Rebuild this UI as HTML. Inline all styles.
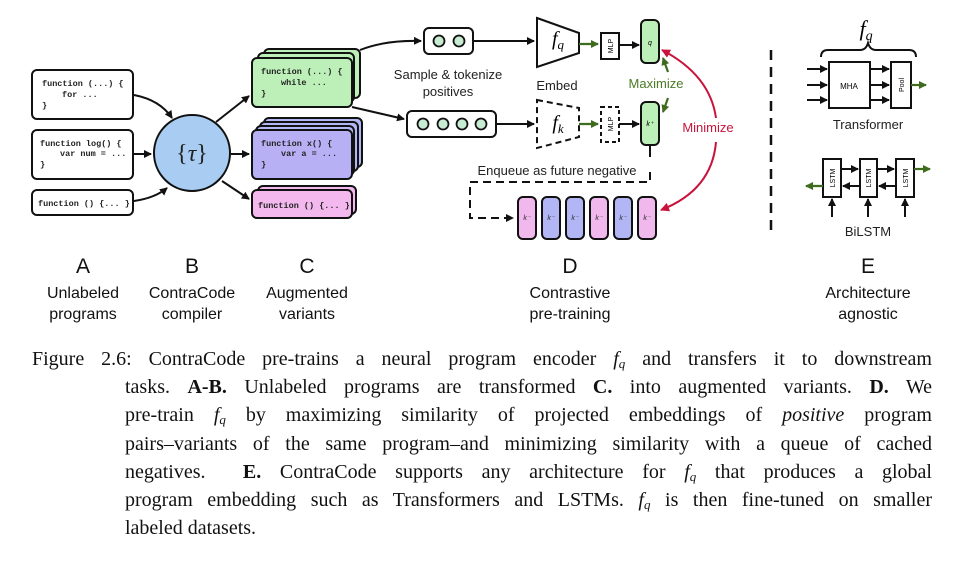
<!DOCTYPE html>
<html><head><meta charset="utf-8"><style>
body{margin:0;width:967px;height:573px;background:#fff;position:relative;overflow:hidden}
.cap{position:absolute;left:125px;width:807px;font-family:"Liberation Serif",serif;font-size:20px;line-height:28.3px;color:#111}
.cap div{text-align:justify;text-align-last:justify;white-space:nowrap;height:28.3px}
.cap div.l{text-align-last:left}
sub{font-size:13px;vertical-align:-3px;line-height:0}
</style></head><body>
<svg width="967" height="340" style="position:absolute;left:0;top:0" font-family="Liberation Sans,sans-serif">
<defs>
<marker id="a" markerWidth="8" markerHeight="8" refX="7" refY="4" orient="auto" markerUnits="userSpaceOnUse"><path d="M0,0L8,4L0,8z" fill="#111"/></marker>
<marker id="g" markerWidth="8" markerHeight="8" refX="7" refY="4" orient="auto" markerUnits="userSpaceOnUse"><path d="M0,0L8,4L0,8z" fill="#3f6b1e"/></marker>
<marker id="r" markerWidth="9" markerHeight="9" refX="8" refY="4.5" orient="auto-start-reverse" markerUnits="userSpaceOnUse"><path d="M0,0L9,4.5L0,9z" fill="#c8143c"/></marker>
</defs>
<g stroke="#111" stroke-width="2" fill="#fff">
<rect x="32" y="70" width="101" height="49" rx="5"/>
<rect x="32" y="130" width="101" height="49" rx="5"/>
<rect x="32" y="190" width="101" height="25" rx="5"/>
</g>
<g font-family="Liberation Mono,monospace" font-size="8.5" font-weight="bold" fill="#222">
<text x="42" y="86">function (...) {</text><text x="62" y="97">for ...</text><text x="42" y="108">}</text>
<text x="40" y="146">function log() {</text><text x="60" y="156">var num = ...</text><text x="40" y="167">}</text>
<text x="38" y="206">function () {... }</text>
</g>
<circle cx="192" cy="153" r="38" fill="#a9cdf2" stroke="#111" stroke-width="2"/>
<text x="192" y="161" font-family="Liberation Serif,serif" font-size="24" text-anchor="middle" fill="#222">{<tspan font-style="italic">τ</tspan>}</text>
<g stroke="#111" stroke-width="2" fill="none">
<path d="M134,95 Q160,100 172,118" marker-end="url(#a)"/>
<path d="M134,154 L151,154" marker-end="url(#a)"/>
<path d="M134,201 Q155,198 167,188" marker-end="url(#a)"/>
<path d="M216,122 L249,96" marker-end="url(#a)"/>
<path d="M231,154 L249,154" marker-end="url(#a)"/>
<path d="M222,181 L249,199" marker-end="url(#a)"/>
</g>
<g stroke="#111" stroke-width="2">
<rect x="264" y="49" width="96" height="49" rx="5" fill="#bdf0b8"/>
<rect x="258" y="53" width="96" height="49" rx="5" fill="#bdf0b8"/>
<rect x="252" y="58" width="100" height="49" rx="5" fill="#bdf0b8"/>
<rect x="264" y="118" width="98" height="49" rx="5" fill="#b3b6f5"/>
<rect x="260" y="122" width="98" height="49" rx="5" fill="#b3b6f5"/>
<rect x="256" y="126" width="98" height="49" rx="5" fill="#b3b6f5"/>
<rect x="252" y="130" width="100" height="49" rx="5" fill="#b8b0f5"/>
<rect x="258" y="186" width="98" height="28" rx="5" fill="#f3b8ee"/>
<rect x="252" y="190" width="100" height="28" rx="5" fill="#f3b8ee"/>
</g>
<g font-family="Liberation Mono,monospace" font-size="8.5" font-weight="bold" fill="#222">
<text x="261" y="74">function (...) {</text><text x="281" y="85">while ...</text><text x="261" y="96">}</text>
<text x="261" y="146">function x() {</text><text x="281" y="156">var a = ...</text><text x="261" y="167">}</text>
<text x="258" y="208">function () {... }</text>
</g>
<g stroke="#111" stroke-width="2" fill="none">
<path d="M360,50 Q385,40 421,41" marker-end="url(#a)"/>
<path d="M352,107 L404,119" marker-end="url(#a)"/>
</g>
<rect x="424" y="28" width="49" height="26" rx="5" fill="#fff" stroke="#111" stroke-width="2"/>
<g fill="#c8ecd2" stroke="#111" stroke-width="1.8">
<circle cx="439" cy="41" r="5.5"/><circle cx="459" cy="41" r="5.5"/>
</g>
<rect x="407" y="111" width="89" height="26" rx="5" fill="#fff" stroke="#111" stroke-width="2"/>
<g fill="#c8ecd2" stroke="#111" stroke-width="1.8">
<circle cx="423" cy="124" r="5.5"/><circle cx="443" cy="124" r="5.5"/><circle cx="462" cy="124" r="5.5"/><circle cx="481" cy="124" r="5.5"/>
</g>
<text x="448" y="79" font-size="13" text-anchor="middle" fill="#222">Sample &amp; tokenize</text>
<text x="448" y="96" font-size="13" text-anchor="middle" fill="#222">positives</text>
<g stroke="#111" stroke-width="2" fill="none">
<path d="M473,41 L534,41" marker-end="url(#a)"/>
<path d="M496,124 L534,124" marker-end="url(#a)"/>
<polygon points="537,18 579,33 579,53 537,67" fill="#fff"/>
<polygon points="537,100 579,108 579,137 537,148" fill="#fff" stroke-dasharray="6,4"/>
<rect x="601" y="33" width="18" height="26" fill="#fff"/>
<rect x="601" y="107" width="18" height="35" fill="#fff" stroke-dasharray="4,3"/>
<path d="M619,45 L639,45" marker-end="url(#a)"/>
<path d="M619,124 L639,124" marker-end="url(#a)"/>
<rect x="641" y="20" width="18" height="43" rx="5" fill="#bdf0b8"/>
<rect x="641" y="102" width="18" height="43" rx="5" fill="#bdf0b8"/>
</g>
<g stroke="#3f6b1e" stroke-width="2.2">
<path d="M579,44 L598,44" marker-end="url(#g)"/>
<path d="M579,124 L598,124" marker-end="url(#g)"/>
<path d="M668,72 L663,58" marker-end="url(#g)"/>
<path d="M668,98 L663,112" marker-end="url(#g)"/>
</g>
<text x="558" y="45" font-family="Liberation Serif,serif" font-style="italic" font-size="20" text-anchor="middle">f<tspan font-size="13" dy="4">q</tspan></text>
<text x="558" y="129" font-family="Liberation Serif,serif" font-style="italic" font-size="20" text-anchor="middle">f<tspan font-size="13" dy="4">k</tspan></text>
<text x="613" y="46" font-size="7" transform="rotate(-90 613 46)" text-anchor="middle">MLP</text>
<text x="613" y="124" font-size="7" transform="rotate(-90 613 124)" text-anchor="middle">MLP</text>
<text x="650" y="45" font-size="7" font-style="italic" text-anchor="middle">q</text>
<text x="650" y="126" font-size="7" font-style="italic" text-anchor="middle">k⁺</text>
<text x="557" y="90" font-size="13" text-anchor="middle" fill="#222">Embed</text>
<text x="656" y="88" font-size="13" text-anchor="middle" fill="#4a7a25">Maximize</text>
<text x="708" y="132" font-size="13" text-anchor="middle" fill="#c8143c">Minimize</text>
<text x="557" y="175" font-size="13" text-anchor="middle" fill="#222">Enqueue as future negative</text>
<path d="M662,50 Q710,75 716,118" stroke="#c8143c" stroke-width="2" fill="none" marker-start="url(#r)"/>
<path d="M716,142 Q712,190 661,210" stroke="#c8143c" stroke-width="2" fill="none" marker-end="url(#r)"/>
<g stroke="#111" stroke-width="2" fill="none">
<path d="M650,145 L650,157"/>
<path d="M650,172 L650,182 L470,182 L470,218 L513,218" stroke-dasharray="8,5" marker-end="url(#a)"/>
</g>
<g stroke="#111" stroke-width="2">
<rect x="518" y="197" width="18" height="42" rx="5" fill="#f0b8ec"/>
<rect x="542" y="197" width="18" height="42" rx="5" fill="#b3b6f5"/>
<rect x="566" y="197" width="18" height="42" rx="5" fill="#b3b6f5"/>
<rect x="590" y="197" width="18" height="42" rx="5" fill="#f0b8ec"/>
<rect x="614" y="197" width="18" height="42" rx="5" fill="#b3b6f5"/>
<rect x="638" y="197" width="18" height="42" rx="5" fill="#f0b8ec"/>
</g>
<g font-size="7" font-style="italic" text-anchor="middle" fill="#333">
<text x="527" y="220">k⁻</text><text x="551" y="220">k⁻</text><text x="575" y="220">k⁻</text><text x="599" y="220">k⁻</text><text x="623" y="220">k⁻</text><text x="647" y="220">k⁻</text>
</g>
<path d="M771,50 L771,230" stroke="#111" stroke-width="2.5" stroke-dasharray="10,7"/>
<text x="866" y="36" font-family="Liberation Serif,serif" font-style="italic" font-size="22" text-anchor="middle">f<tspan font-size="14" dy="4">q</tspan></text>
<path d="M821,57 Q821,50 828,50 L860,50 Q866,50 868,43 Q870,50 876,50 L909,50 Q916,50 916,57" stroke="#111" stroke-width="2" fill="none"/>
<g stroke="#111" stroke-width="2" fill="none">
<rect x="829" y="62" width="41" height="46" fill="#fff"/>
<rect x="891" y="62" width="20" height="46" fill="#fff"/>
<path d="M807,69 L827,69" marker-end="url(#a)"/><path d="M807,85 L827,85" marker-end="url(#a)"/><path d="M807,100 L827,100" marker-end="url(#a)"/>
<path d="M870,69 L889,69" marker-end="url(#a)"/><path d="M870,85 L889,85" marker-end="url(#a)"/><path d="M870,100 L889,100" marker-end="url(#a)"/>
<rect x="823" y="159" width="18" height="38" fill="#fff"/>
<rect x="860" y="159" width="17" height="38" fill="#fff"/>
<rect x="896" y="159" width="18" height="38" fill="#fff"/>
<path d="M841,169 L858,169" marker-end="url(#a)"/><path d="M877,169 L894,169" marker-end="url(#a)"/>
<path d="M860,186 L843,186" marker-end="url(#a)"/><path d="M896,186 L879,186" marker-end="url(#a)"/>
<path d="M832,217 L832,199" marker-end="url(#a)"/><path d="M868,217 L868,199" marker-end="url(#a)"/><path d="M905,217 L905,199" marker-end="url(#a)"/>
</g>
<g stroke="#3f6b1e" stroke-width="2.2">
<path d="M911,85 L926,85" marker-end="url(#g)"/>
<path d="M914,169 L930,169" marker-end="url(#g)"/>
<path d="M823,186 L806,186" marker-end="url(#g)"/>
</g>
<text x="849" y="89" font-size="8" text-anchor="middle">MHA</text>
<text x="901" y="85" font-size="7" text-anchor="middle" transform="rotate(-90 901 85)" dy="3">Pool</text>
<text x="832" y="178" font-size="7" text-anchor="middle" transform="rotate(-90 832 178)" dy="3">LSTM</text>
<text x="868" y="178" font-size="7" text-anchor="middle" transform="rotate(-90 868 178)" dy="3">LSTM</text>
<text x="905" y="178" font-size="7" text-anchor="middle" transform="rotate(-90 905 178)" dy="3">LSTM</text>
<text x="868" y="129" font-size="13" text-anchor="middle" fill="#222">Transformer</text>
<text x="868" y="236" font-size="13" text-anchor="middle" fill="#222">BiLSTM</text>
<g font-size="21" text-anchor="middle" fill="#111">
<text x="83" y="273">A</text><text x="192" y="273">B</text><text x="307" y="273">C</text><text x="570" y="273">D</text><text x="868" y="273">E</text>
</g>
<g font-size="16" text-anchor="middle" fill="#111">
<text x="83" y="298">Unlabeled</text><text x="83" y="319">programs</text>
<text x="192" y="298">ContraCode</text><text x="192" y="319">compiler</text>
<text x="307" y="298">Augmented</text><text x="307" y="319">variants</text>
<text x="570" y="298">Contrastive</text><text x="570" y="319">pre-training</text>
<text x="868" y="298">Architecture</text><text x="868" y="319">agnostic</text>
</g>
</svg>
<div class="cap" style="top:345px;left:32px;width:900px"><div>Figure 2.6: ContraCode pre-trains a neural program encoder <i>f<sub>q</sub></i> and transfers it to downstream</div></div>
<div class="cap" style="top:373px">
<div>tasks. <b>A-B.</b> Unlabeled programs are transformed <b>C.</b> into augmented variants. <b>D.</b> We</div>
<div>pre-train <i>f<sub>q</sub></i> by maximizing similarity of projected embeddings of <i>positive</i> program</div>
<div>pairs–variants of the same program–and minimizing similarity with a queue of cached</div>
<div>negatives. &nbsp;<b>E.</b> ContraCode supports any architecture for <i>f<sub>q</sub></i> that produces a global</div>
<div>program embedding such as Transformers and LSTMs. <i>f<sub>q</sub></i> is then fine-tuned on smaller</div>
<div class="l">labeled datasets.</div>
</div>
</body></html>
